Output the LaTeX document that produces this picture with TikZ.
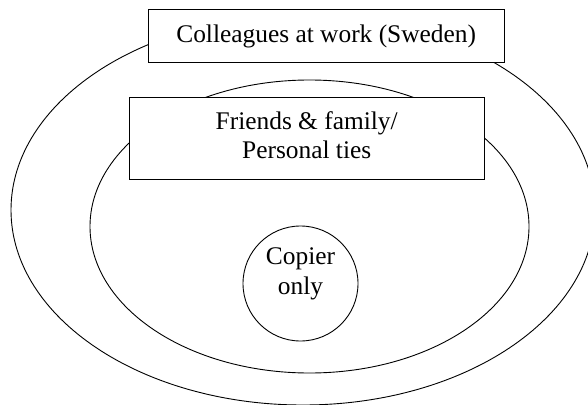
\documentclass[tikz,border=0pt]{standalone}
\usepackage{fontspec}
\setmainfont{Liberation Serif}
\usetikzlibrary{shapes.geometric}
\begin{document}
\begin{tikzpicture}[x=1pt,y=-1pt,
  ring/.style={draw, ellipse, line width=0.9pt, inner sep=0pt},
  labelbox/.style={draw, rectangle, fill=white, line width=0.9pt, inner sep=0pt, align=center,
    font=\fontsize{25.4}{29.5}\selectfont},
  innercirc/.style={draw, circle, fill=white, line width=0.9pt, inner sep=0pt, align=center,
    font=\fontsize{25.4}{29.5}\selectfont}]
\useasboundingbox (0,0) rectangle (588,404);
\node[ring, minimum width=584pt, minimum height=390pt] (outer) at (303,210) {};
\node[labelbox, minimum width=355.7pt, minimum height=53.4pt] (work) at (326.2,36) {Colleagues at work (Sweden)};
\node[ring, minimum width=439pt, minimum height=293pt] (inner) at (309.5,226.5) {};
\node[labelbox, minimum width=354.7pt, minimum height=81.3pt, text depth=6.3pt] (family) at (306.7,138.3) {Friends \& family/\\Personal ties};
\node[innercirc, minimum size=115pt, text height=26.9pt] (copier) at (300.5,283.5) {Copier\\only};
\end{tikzpicture}
\end{document}
